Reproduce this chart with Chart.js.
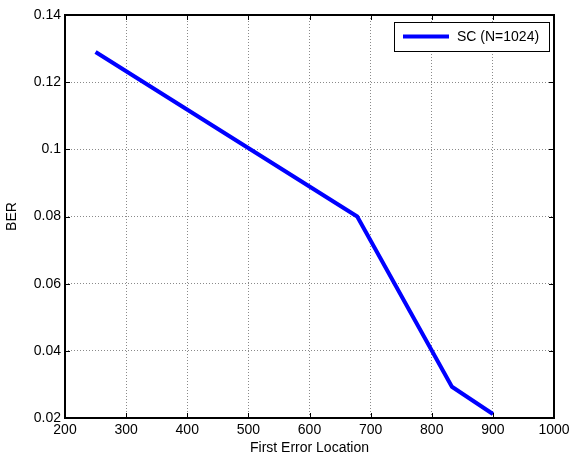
<!DOCTYPE html>
<html lang="en">
<head>
<meta charset="UTF-8">
<title>BER vs First Error Location</title>
<script src="https://cdn.jsdelivr.net/npm/chart.js@4"></script>
<style>
  html, body { margin: 0; padding: 0; background: #fff; }
  #wrap { width: 569px; height: 459px; }
</style>
</head>
<body>
<div id="wrap"><canvas id="berChart" width="569" height="459"></canvas></div>
<script>
// data
const seriesName = 'SC (N=1024)';
const errorLocation = [250, 678, 833, 900];
const berValues = [0.129, 0.080, 0.0293, 0.0212];
const xTicks = [200, 300, 400, 500, 600, 700, 800, 900, 1000];
const yTicks = [0.02, 0.04, 0.06, 0.08, 0.1, 0.12, 0.14];

const FONT = "'Liberation Sans', Arial, Helvetica, sans-serif";
const TICK_LEN = 5;

// box, inward ticks and legend, drawn on top like a MATLAB axes
const axesBox = {
  id: 'axesBox',
  afterDraw(chart) {
    const ctx = chart.ctx;
    const a = chart.chartArea;
    const xs = chart.scales.x, ys = chart.scales.y;
    ctx.save();
    ctx.strokeStyle = '#000';
    ctx.lineWidth = 1;
    ctx.beginPath();
    xTicks.forEach(v => {
      const px = Math.round(xs.getPixelForValue(v)) + 0.5;
      ctx.moveTo(px, a.bottom); ctx.lineTo(px, a.bottom - TICK_LEN);
      ctx.moveTo(px, a.top); ctx.lineTo(px, a.top + TICK_LEN);
    });
    yTicks.forEach(v => {
      const py = Math.round(ys.getPixelForValue(v)) + 0.5;
      ctx.moveTo(a.left, py); ctx.lineTo(a.left + TICK_LEN, py);
      ctx.moveTo(a.right, py); ctx.lineTo(a.right - TICK_LEN, py);
    });
    ctx.stroke();

    ctx.lineWidth = 2;
    ctx.strokeRect(a.left, a.top, a.right - a.left, a.bottom - a.top);

    // legend
    const lx = 394, ly = 22, lw = 155, lh = 29;
    ctx.fillStyle = '#fff';
    ctx.fillRect(lx, ly, lw, lh);
    ctx.lineWidth = 1;
    ctx.strokeRect(lx + 0.5, ly + 0.5, lw, lh);
    const ds = chart.data.datasets[0];
    ctx.strokeStyle = ds.borderColor;
    ctx.lineWidth = ds.borderWidth;
    ctx.beginPath();
    ctx.moveTo(lx + 9, ly + 14.5);
    ctx.lineTo(lx + 55, ly + 14.5);
    ctx.stroke();
    ctx.fillStyle = '#000';
    ctx.font = '14px ' + FONT;
    ctx.textAlign = 'left';
    ctx.textBaseline = 'middle';
    ctx.fillText(ds.label, lx + 63, ly + 15);
    ctx.restore();
  }
};

const fmtY = v => String(Number(v.toFixed(2)));

new Chart(document.getElementById('berChart').getContext('2d'), {
  type: 'line',
  data: {
    datasets: [{
      label: seriesName,
      data: errorLocation.map((x, i) => ({ x: x, y: berValues[i] })),
      borderColor: '#0000ff',
      borderWidth: 4,
      pointRadius: 0,
      tension: 0,
      borderJoinStyle: 'miter',
      fill: false
    }]
  },
  options: {
    responsive: false,
    animation: false,
    layout: { padding: { top: 15, right: 15, left: 0, bottom: 0 } },
    plugins: { legend: { display: false }, tooltip: { enabled: false } },
    scales: {
      x: {
        type: 'linear',
        min: 200, max: 1000,
        afterBuildTicks: s => { s.ticks = xTicks.map(v => ({ value: v })); },
        afterFit: s => { s.height = 41; s.paddingLeft = 0; s.paddingRight = 0; },
        grid: { color: '#8a8a8a', lineWidth: 1, drawTicks: false },
        border: { display: false, dash: [1, 2] },
        ticks: { padding: 4, color: '#000', maxRotation: 0, autoSkip: false,
                 font: { family: FONT, size: 14 }, callback: v => String(v) },
        title: { display: true, text: 'First Error Location', color: '#000',
                 font: { family: FONT, size: 14 }, padding: { top: 0, bottom: 2 } }
      },
      y: {
        type: 'linear',
        min: 0.02, max: 0.14,
        afterBuildTicks: s => { s.ticks = yTicks.map(v => ({ value: v })); },
        afterFit: s => { s.width = 65; s.paddingTop = 0; s.paddingBottom = 0; },
        grid: { color: '#8a8a8a', lineWidth: 1, drawTicks: false },
        border: { display: false, dash: [1, 2] },
        ticks: { padding: 4, color: '#000', autoSkip: false,
                 font: { family: FONT, size: 14 }, callback: v => fmtY(v) },
        title: { display: true, text: 'BER', color: '#000',
                 font: { family: FONT, size: 14 }, padding: { top: 4, bottom: 0 } }
      }
    }
  },
  plugins: [axesBox]
});
</script>
</body>
</html>
